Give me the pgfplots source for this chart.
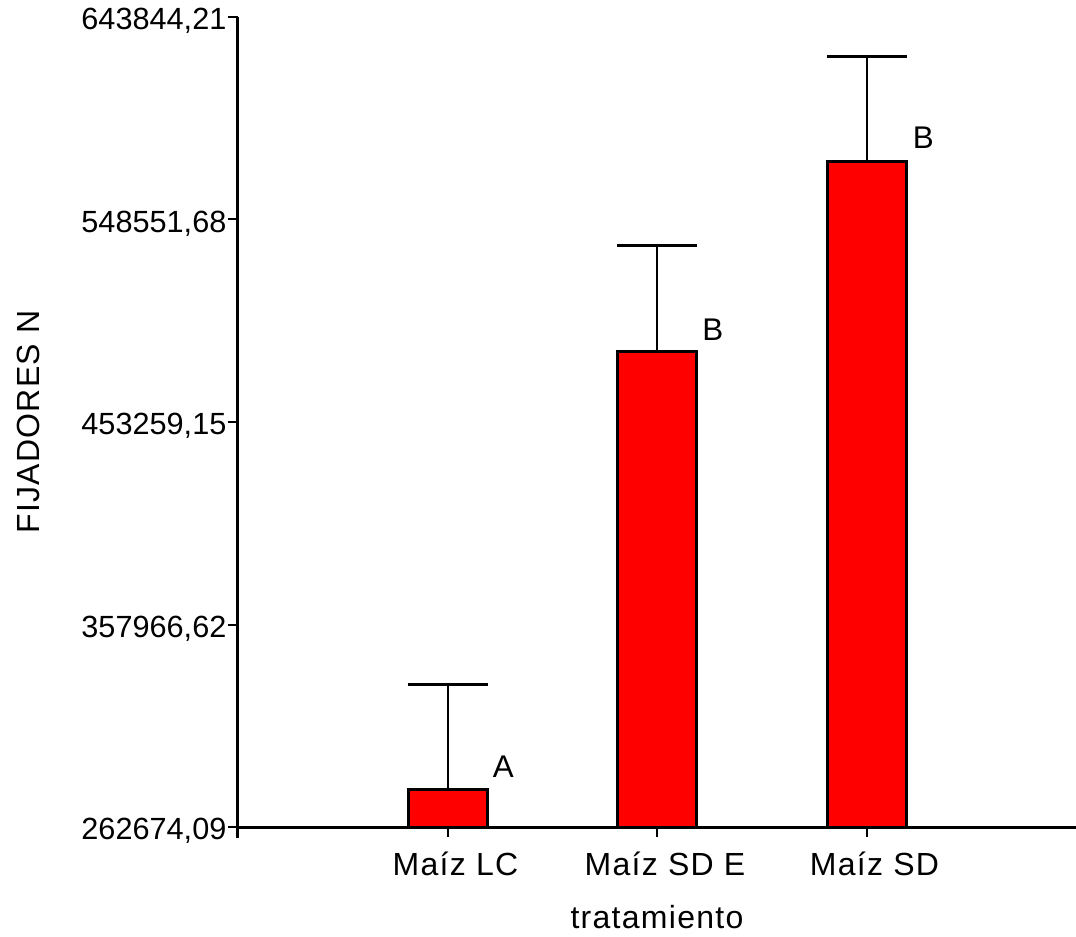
\documentclass[border=0pt]{standalone}
\usepackage{fontspec}
\setmainfont{Liberation Sans}
\newfontfamily\lsp[LetterSpace=4]{Liberation Sans}
\usepackage{pgfplots}
\pgfplotsset{compat=1.18}
\begin{document}
\begin{tikzpicture}
\begin{axis}[
  scale only axis,
  width=628.5pt, height=607.5pt,
  xmin=-1, xmax=3,
  ymin=262674.09, ymax=643844.21,
  axis x line*=bottom, axis y line*=left,
  x axis line style={line width=2.25pt},
  y axis line style={line width=2.25pt, shorten <=-8.25pt},
  xtick={0,1,2},
  xticklabels={Maíz LC,Maíz SD E,Maíz SD},
  ytick={262674.09,357966.62,453259.15,548551.68,643844.21},
  yticklabels={{262674,09},{357966,62},{453259,15},{548551,68},{643844,21}},
  tick align=outside,
  major tick length=7.5pt,
  tick style={line width=1.5pt, black},
  yticklabel style={inner sep=1pt, yshift=-3pt, font=\fontsize{23}{26}\selectfont},
  xticklabel style={inner sep=2pt, yshift=-9pt, xshift=6pt, font=\lsp\fontsize{24}{26}\selectfont},
  xlabel={tratamiento},
  ylabel={FIJADORES N},
  every axis x label/.style={at={(rel axis cs:0.5,0)}, anchor=base, yshift=-75.75pt, font=\lsp\fontsize{24}{26}\selectfont},
  every axis y label/.style={at={(rel axis cs:0,0.5)}, anchor=center, xshift=-157.5pt, rotate=90, font=\lsp\fontsize{24}{26}\selectfont},
  ybar, bar width=59.25pt,
]
\addplot[fill={rgb,255:red,255;green,0;blue,0}, draw=black, line width=2.25pt,
  error bars/.cd, y dir=plus, y explicit,
  error bar style={line width=1.5pt, black},
  error mark options={rotate=90, line width=2.25pt, mark size=30pt, black}]
  coordinates {
    (0,280556) +- (0,49411)
    (1,486200) +- (0,49881)
    (2,575610) +- (0,49411)
  };
\node[font=\fontsize{23.5}{26}\selectfont] at (axis cs:0.267,290909) {A};
\node[font=\fontsize{23.5}{26}\selectfont] at (axis cs:1.267,496552) {B};
\node[font=\fontsize{23.5}{26}\selectfont] at (axis cs:2.271,586904) {B};
\coordinate (bl) at (rel axis cs:0,0);
\coordinate (tr) at (rel axis cs:1,1);
\end{axis}
\pgfresetboundingbox
\path[use as bounding box] ([shift={(-178.5pt,-81.75pt)}]bl) rectangle ([shift={(0pt,12.75pt)}]tr);
\end{tikzpicture}
\end{document}
